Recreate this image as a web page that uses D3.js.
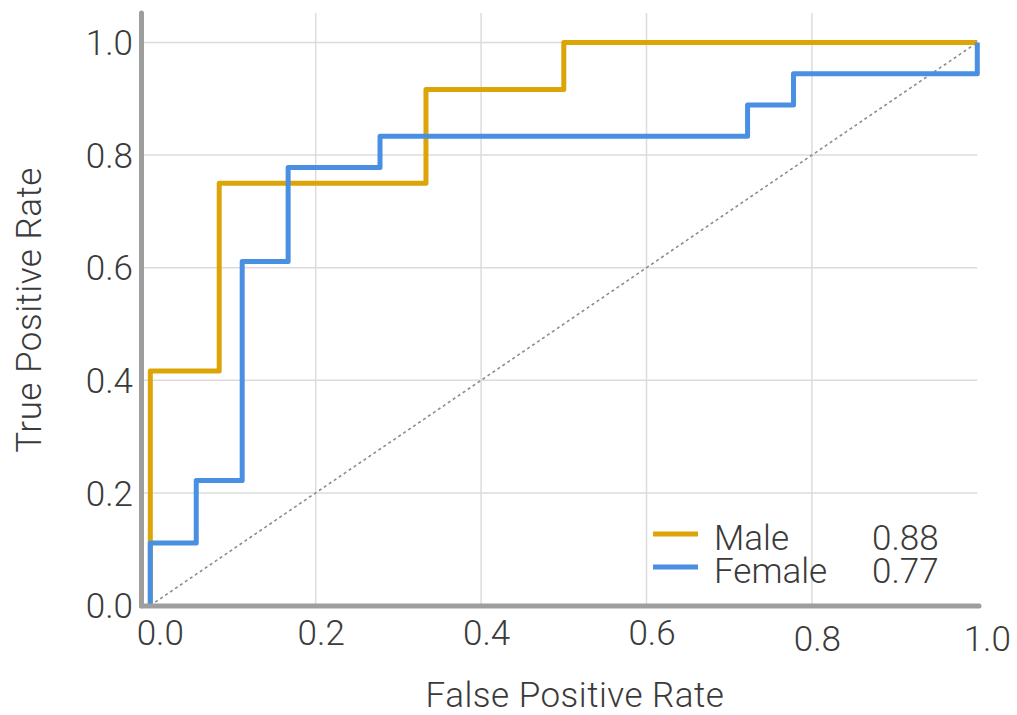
<!DOCTYPE html>
<html>
<head>
<meta charset="utf-8">
<script src="https://cdn.jsdelivr.net/npm/d3@7"></script>
<style>
  body { margin: 0; background: #fff; }
  text { font-family: Roboto, "Liberation Sans", sans-serif; font-weight: 300; fill: #3a3a3a; }
</style>
</head>
<body>
<div id="roc_chart"></div>
<script>
// ROC curves, step points (FPR, TPR)
var male_fpr = [0, 0, 1/12, 1/12, 4/12, 4/12, 6/12, 6/12, 1];
var male_tpr = [0, 5/12, 5/12, 9/12, 9/12, 11/12, 11/12, 1, 1];

var female_fpr = [0, 0, 1/18, 1/18, 2/18, 2/18, 3/18, 3/18, 5/18, 5/18, 13/18, 13/18, 14/18, 14/18, 1, 1];
var female_tpr = [0, 2/18, 2/18, 4/18, 4/18, 11/18, 11/18, 14/18, 14/18, 15/18, 15/18, 16/18, 16/18, 17/18, 17/18, 1];

var series_names = ['Male', 'Female'];
var series_auc = ['0.88', '0.77'];
var ticks = [0, 0.2, 0.4, 0.6, 0.8, 1.0];

var colors = ['#dba507', '#4a90e2'];

var chart_width = 1017;
var chart_height = 715;

var svg = d3.select('#roc_chart')
    .append('svg')
    .attr('width', chart_width)
    .attr('height', chart_height);

var x_scale = d3.scaleLinear().domain([0, 1]).range([150.3, 977.3]);
var y_scale = d3.scaleLinear().domain([0, 1]).range([605.5, 42.5]);

var axis_x = 141.5;
var axis_y = 606;
var top_y = 13;

// grid
svg.append('g')
    .selectAll('line')
    .data(ticks.filter(function (d) { return d > 0 && d < 1; }))
    .enter()
    .append('line')
    .attr('x1', function (d) { return x_scale(d); })
    .attr('x2', function (d) { return x_scale(d); })
    .attr('y1', top_y)
    .attr('y2', axis_y)
    .attr('stroke', '#dcdcdc')
    .attr('stroke-width', 1.5);

svg.append('g')
    .selectAll('line')
    .data(ticks.filter(function (d) { return d > 0; }))
    .enter()
    .append('line')
    .attr('x1', axis_x)
    .attr('x2', x_scale(1))
    .attr('y1', function (d) { return y_scale(d); })
    .attr('y2', function (d) { return y_scale(d); })
    .attr('stroke', '#dcdcdc')
    .attr('stroke-width', 1.5);

// chance diagonal
svg.append('line')
    .attr('x1', x_scale(0))
    .attr('y1', y_scale(0))
    .attr('x2', x_scale(1))
    .attr('y2', y_scale(1))
    .attr('stroke', '#8c8c8c')
    .attr('stroke-width', 1.6)
    .attr('stroke-dasharray', '3,3');

// curves
var line = d3.line()
    .x(function (d) { return x_scale(d[0]); })
    .y(function (d) { return y_scale(d[1]); });

var curves = [d3.zip(male_fpr, male_tpr), d3.zip(female_fpr, female_tpr)];

svg.append('g')
    .selectAll('path')
    .data(curves)
    .enter()
    .append('path')
    .attr('d', line)
    .attr('fill', 'none')
    .attr('stroke', function (d, i) { return colors[i]; })
    .attr('stroke-width', 5)
    .attr('stroke-linejoin', 'round');

// axes lines
svg.append('line')
    .attr('x1', axis_x).attr('x2', axis_x)
    .attr('y1', top_y).attr('y2', axis_y)
    .attr('stroke', '#9e9e9e')
    .attr('stroke-width', 5)
    .attr('stroke-linecap', 'round');

svg.append('line')
    .attr('x1', axis_x).attr('x2', 979)
    .attr('y1', axis_y).attr('y2', axis_y)
    .attr('stroke', '#9e9e9e')
    .attr('stroke-width', 5)
    .attr('stroke-linecap', 'round');

// tick labels
svg.append('g')
    .selectAll('text')
    .data(ticks)
    .enter()
    .append('text')
    .attr('x', 133)
    .attr('y', function (d) { return y_scale(d); })
    .attr('dy', '0.36em')
    .style('text-anchor', 'end')
    .style('font-size', '35px')
    .text(function (d) { return d.toFixed(1); });

svg.append('g')
    .selectAll('text')
    .data(ticks)
    .enter()
    .append('text')
    .attr('x', function (d) { return x_scale(d) + (d === 0 || d === 1 ? 10 : 5.5); })
    .attr('y', function (d) { return d >= 0.8 ? 651 : 645; })
    .style('text-anchor', 'middle')
    .style('font-size', '35px')
    .text(function (d) { return d.toFixed(1); });

// axis titles
svg.append('text')
    .attr('x', 575)
    .attr('y', 707)
    .style('text-anchor', 'middle')
    .style('font-size', '35px')
    .style('letter-spacing', '0.5px')
    .text('False Positive Rate');

svg.append('text')
    .attr('transform', 'translate(41,310) rotate(-90)')
    .style('text-anchor', 'middle')
    .style('font-size', '35px')
    .style('letter-spacing', '0.5px')
    .text('True Positive Rate');

// legend
var legend = svg.append('g')
    .selectAll('g')
    .data(series_names)
    .enter()
    .append('g')
    .attr('transform', function (d, i) { return 'translate(0,' + (i * 33) + ')'; });

legend.append('line')
    .attr('x1', 653).attr('x2', 698)
    .attr('y1', 534).attr('y2', 534)
    .attr('stroke', function (d, i) { return colors[i]; })
    .attr('stroke-width', 5);

legend.append('text')
    .attr('x', 714)
    .attr('y', 550)
    .style('font-size', '35px')
    .text(function (d) { return d; });

legend.append('text')
    .attr('x', 872)
    .attr('y', 550)
    .style('font-size', '35px')
    .text(function (d, i) { return series_auc[i]; });
</script>
</body>
</html>
